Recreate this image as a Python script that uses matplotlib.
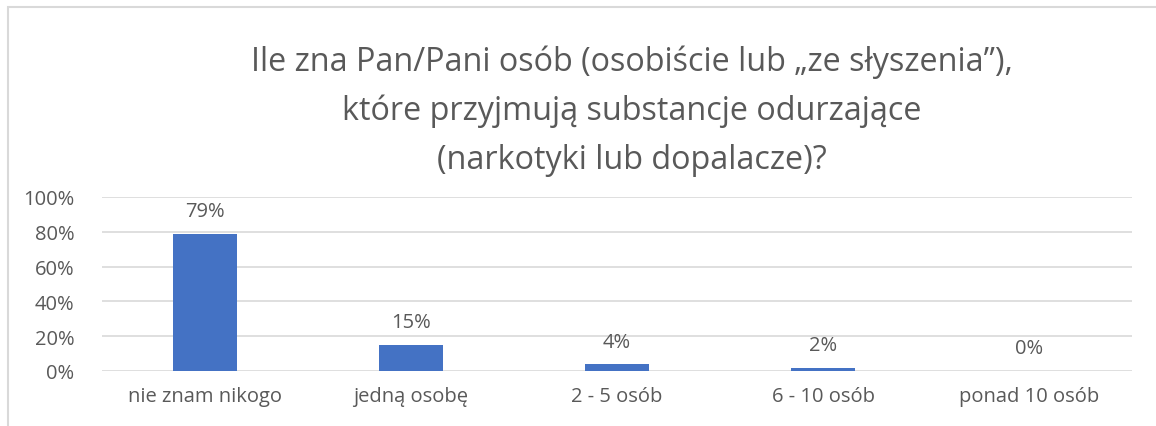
import matplotlib.pyplot as plt
from matplotlib.patches import Rectangle

# ── data ───────────────────────────────────────────────────────────────
categories = ["nie znam nikogo", "jedną osobę", "2 - 5 osób", "6 - 10 osób", "ponad 10 osób"]
values = [79, 15, 4, 2, 0]
yticks = [0, 20, 40, 60, 80, 100]
title = ("Ile zna Pan/Pani osób (osobiście lub \u201eze słyszenia\u201d),\n"
         "które przyjmują substancje odurzające\n"
         "(narkotyki lub dopalacze)?")

TEXT = "#595959"
GRID = "#d9d9d9"
BAR = "#4472c4"

plt.rcParams["font.family"] = ["Open Sans", "DejaVu Sans"]

fig = plt.figure(figsize=(11.56, 4.27), dpi=100)

# chart frame (only top and left edges fall inside the crop)
fig.patches.append(Rectangle((8 / 1156, -0.1), 1.2, 1 - 8 / 427 + 0.1,
                             transform=fig.transFigure, fill=False,
                             edgecolor=GRID, linewidth=1.5))

ax = fig.add_axes([102 / 1156, 55 / 427, 1030 / 1156, 174 / 427])
x = range(len(categories))
ax.bar(x, values, width=0.315, color=BAR, zorder=3)
ax.set_xlim(-0.5, len(categories) - 0.5)
ax.set_ylim(0, 100)
ax.set_yticks(yticks)
ax.set_yticklabels([f"{v}%" for v in yticks])
ax.set_xticks(list(x))
ax.set_xticklabels(categories)
ax.tick_params(axis="both", length=0, labelsize=14.5, colors=TEXT)
ax.tick_params(axis="y", pad=20)
ax.tick_params(axis="x", pad=11)
ax.grid(axis="y", color=GRID, linewidth=1.2, zorder=0)
for s in ax.spines.values():
    s.set_visible(False)

for xi, v in zip(x, values):
    ax.annotate(f"{v}%", (xi, v), xytext=(0, 9), textcoords="offset points",
                ha="center", va="bottom", fontsize=14.5, color=TEXT)

fig.text(632 / 1156, 1 - 111 / 427, title, ha="center", va="center",
         fontsize=23.3, color=TEXT, linespacing=1.62)

fig.savefig("out.png", dpi=100)
